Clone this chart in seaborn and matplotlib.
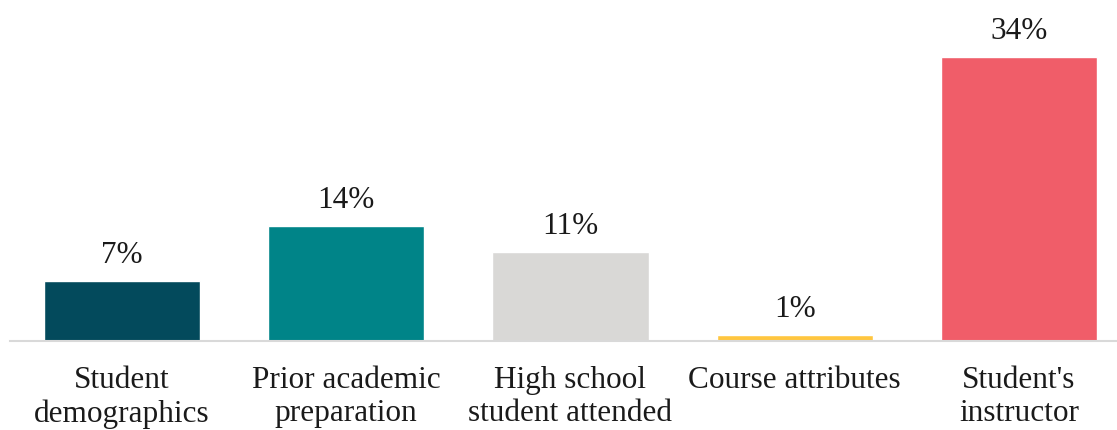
import matplotlib
matplotlib.use("Agg")
import matplotlib.pyplot as plt
import seaborn as sns
import pandas as pd

categories = ["Student\ndemographics", "Prior academic\npreparation",
              "High school\nstudent attended", "Course attributes",
              "Student's\ninstructor"]
values = [7.2, 13.8, 10.7, 0.7, 34.0]
colors = ["#034A5C", "#008488", "#D9D8D6", "#FFC63F", "#F05D69"]

sns.set_theme(style="white")
plt.rcParams['font.family'] = ['Liberation Serif', 'DejaVu Serif']

df = pd.DataFrame({"cat": categories, "val": values})

fig = plt.figure(figsize=(11.17, 4.30), dpi=100)
ax = fig.add_axes([10/1117, 89/430, 1121/1117, 341/430])
sns.barplot(data=df, x="cat", y="val", hue="cat", palette=colors,
            legend=False, width=0.696, saturation=1, ax=ax)

ax.set_ylim(0, 341/8.353)
ax.set_xlim(-0.5, 4.5)
for s in ["top", "right", "left"]:
    ax.spines[s].set_visible(False)
ax.spines["bottom"].set_color("#D9D9D9")
ax.spines["bottom"].set_linewidth(1.5)
ax.set_yticks([])
ax.set_xlabel("")
ax.set_ylabel("")
ax.tick_params(axis="x", length=0, pad=18, labelsize=22.5, colors="#1a1a1a")
for lbl in ax.get_xticklabels():
    lbl.set_linespacing(1.2)

for i, v in enumerate(values):
    ax.annotate(f"{v:.0f}%", (i, v), xytext=(0, 8), textcoords="offset points",
                ha="center", va="bottom", fontsize=22.5, color="#1a1a1a")

fig.savefig("out.png", dpi=100)
